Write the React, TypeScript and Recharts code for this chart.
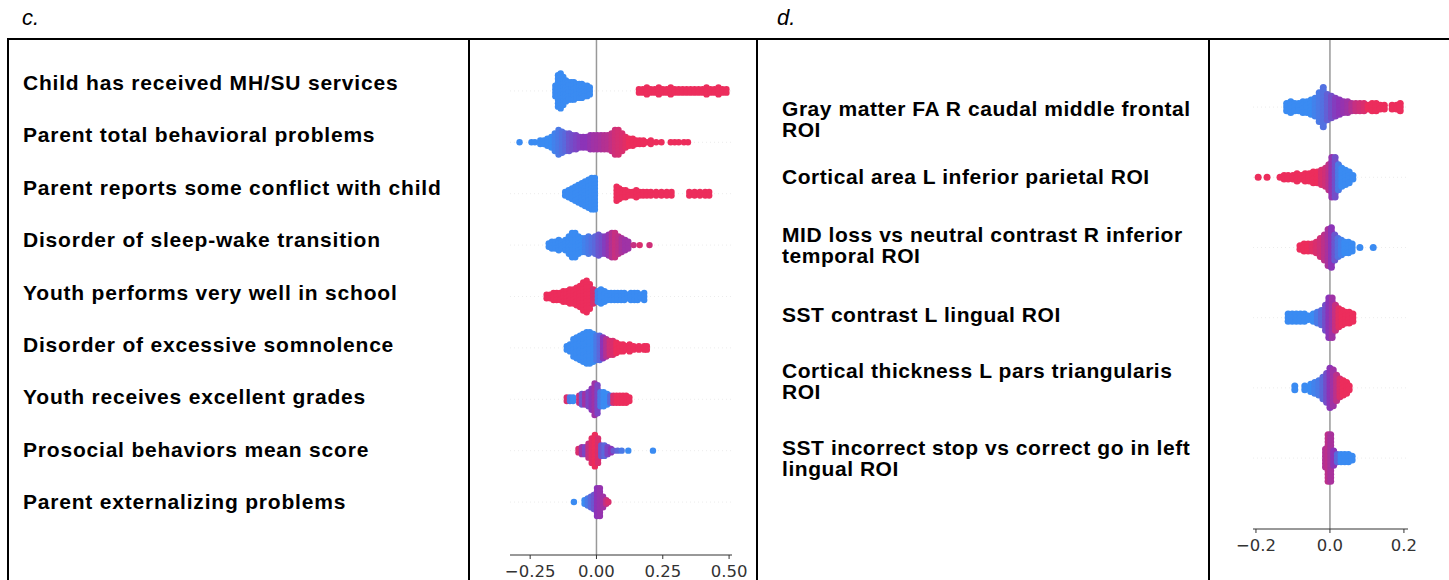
import React from 'react';
import { ScatterChart, Scatter, XAxis, YAxis, ReferenceLine } from 'recharts';

type Bin = [number, number, number]; // [shap value, dots stacked, feature value 0=low(blue) 1=high(red)]

const cFeatures = [
  'Child has received MH/SU services',
  'Parent total behavioral problems',
  'Parent reports some conflict with child',
  'Disorder of sleep-wake transition',
  'Youth performs very well in school',
  'Disorder of excessive somnolence',
  'Youth receives excellent grades',
  'Prosocial behaviors mean score',
  'Parent externalizing problems',
];

const dFeatures = [
  ['Gray matter FA R caudal middle frontal', 'ROI'],
  ['Cortical area L inferior parietal ROI'],
  ['MID loss vs neutral contrast R inferior', 'temporal ROI'],
  ['SST contrast L lingual ROI'],
  ['Cortical thickness L pars triangularis', 'ROI'],
  ['SST incorrect stop vs correct go in left', 'lingual ROI'],
];

const cTicks = [-0.25, 0, 0.25, 0.5];
const dTicks = [-0.2, 0, 0.2];

// ---- panel c rows ----
const cMHSU: Bin[] = [
  [-0.155, 4, 0], [-0.145, 10, 0], [-0.135, 11, 0], [-0.125, 9, 0], [-0.115, 7, 0], [-0.105, 6, 0],
  [-0.095, 6, 0], [-0.085, 6, 0], [-0.075, 5, 0], [-0.065, 5, 0], [-0.055, 5, 0], [-0.045, 4, 0],
  [-0.035, 4, 0], [-0.025, 3, 0],
  [0.16, 2, 1], [0.175, 2, 1], [0.19, 3, 1], [0.205, 2, 1], [0.22, 2, 1], [0.235, 3, 1], [0.25, 2, 1],
  [0.265, 2, 1], [0.28, 3, 1], [0.295, 2, 1], [0.31, 2, 1], [0.325, 2, 1], [0.34, 2, 1], [0.355, 2, 1],
  [0.37, 2, 1], [0.385, 2, 1], [0.4, 2, 1], [0.415, 3, 1], [0.43, 2, 1], [0.445, 2, 1], [0.46, 3, 1],
  [0.475, 2, 1], [0.49, 2, 1],
];
const cParentBehav: Bin[] = [
  [-0.29, 1, 0], [-0.245, 1, 0], [-0.232, 1, 0], [-0.212, 2, 0], [-0.198, 2, 0], [-0.185, 3, 0],
  [-0.17, 4, 0], [-0.157, 6, 0.05], [-0.143, 8, 0.1], [-0.13, 7, 0.15], [-0.117, 6, 0.2], [-0.103, 6, 0.3],
  [-0.09, 5, 0.35], [-0.077, 5, 0.4], [-0.063, 4, 0.45], [-0.05, 4, 0.5], [-0.037, 4, 0.5], [-0.023, 5, 0.55],
  [-0.01, 5, 0.6], [0.003, 5, 0.62], [0.017, 5, 0.65], [0.03, 5, 0.7], [0.043, 5, 0.72], [0.057, 6, 0.78],
  [0.07, 8, 0.85], [0.083, 8, 0.88], [0.097, 6, 0.9], [0.11, 4, 0.95], [0.123, 3, 1], [0.137, 3, 1],
  [0.15, 2, 1], [0.163, 2, 1], [0.177, 2, 1], [0.19, 1, 1], [0.205, 2, 1], [0.225, 1, 1], [0.245, 1, 1],
  [0.28, 1, 1], [0.295, 1, 1], [0.31, 1, 1], [0.33, 1, 1], [0.345, 1, 1],
];
const cConflict: Bin[] = [
  [-0.118, 2, 0], [-0.105, 3, 0], [-0.092, 4, 0], [-0.08, 5, 0], [-0.068, 6, 0], [-0.055, 7, 0],
  [-0.043, 8, 0], [-0.03, 9, 0], [-0.018, 10, 0], [-0.006, 10, 0],
  [0.076, 5, 1], [0.086, 4, 1], [0.098, 3, 1], [0.11, 3, 1], [0.123, 2, 1], [0.136, 2, 1], [0.15, 3, 1],
  [0.163, 2, 1], [0.176, 2, 1], [0.19, 2, 1], [0.205, 2, 1], [0.225, 2, 1], [0.245, 2, 1], [0.265, 2, 1],
  [0.283, 2, 1], [0.35, 2, 1], [0.37, 2, 1], [0.39, 2, 1], [0.41, 2, 1], [0.425, 2, 1],
];
const cSleepWake: Bin[] = [
  [-0.18, 2, 0], [-0.168, 3, 0], [-0.155, 3, 0], [-0.142, 4, 0], [-0.13, 3, 0], [-0.117, 4, 0],
  [-0.104, 6, 0], [-0.092, 8, 0], [-0.08, 8, 0], [-0.068, 6, 0], [-0.055, 5, 0], [-0.043, 5, 0.05],
  [-0.03, 6, 0.1], [-0.018, 5, 0.15], [-0.005, 6, 0.2], [0.008, 7, 0.3], [0.02, 6, 0.35], [0.033, 6, 0.45],
  [0.046, 7, 0.55], [0.058, 8, 0.7], [0.07, 8, 0.8], [0.083, 6, 0.75], [0.095, 5, 0.65], [0.108, 4, 0.6],
  [0.12, 3, 0.6], [0.14, 1, 0.8], [0.163, 1, 0.9], [0.2, 1, 0.85],
];
const cSchool: Bin[] = [
  [-0.188, 2, 1], [-0.175, 2, 1], [-0.162, 3, 1], [-0.15, 3, 1], [-0.137, 3, 1], [-0.125, 4, 1],
  [-0.112, 4, 1], [-0.1, 5, 1], [-0.087, 5, 1], [-0.075, 6, 1], [-0.062, 7, 1], [-0.05, 9, 1],
  [-0.037, 10, 1], [-0.025, 8, 1], [-0.012, 5, 0.9],
  [0.005, 4, 0.05], [0.017, 5, 0], [0.03, 4, 0], [0.042, 3, 0], [0.055, 3, 0], [0.068, 3, 0], [0.08, 3, 0],
  [0.093, 3, 0], [0.105, 3, 0], [0.118, 2, 0], [0.13, 3, 0], [0.143, 3, 0], [0.155, 3, 0], [0.168, 2, 0],
  [0.18, 3, 0],
];
const cSomnolence: Bin[] = [
  [-0.112, 2, 0], [-0.1, 3, 0], [-0.087, 6, 0], [-0.075, 7, 0], [-0.062, 8, 0], [-0.05, 9, 0],
  [-0.037, 10, 0], [-0.025, 10, 0], [-0.012, 9, 0], [0.0, 8, 0.1], [0.012, 8, 0.2], [0.025, 7, 0.5],
  [0.037, 6, 0.7], [0.05, 5, 0.85], [0.062, 5, 0.9], [0.075, 4, 1], [0.087, 3, 1], [0.1, 3, 1],
  [0.112, 2, 1], [0.125, 3, 1], [0.14, 2, 1], [0.16, 2, 1], [0.18, 2, 1], [0.19, 2, 1],
];
const cGrades: Bin[] = [
  [-0.112, 2, 0.9], [-0.1, 2, 0.1], [-0.088, 2, 0], [-0.065, 3, 0.8], [-0.055, 4, 0.3], [-0.043, 4, 0.6],
  [-0.03, 5, 0.4], [-0.018, 7, 0.5], [-0.007, 10, 0.6], [0.004, 9, 0.4], [0.015, 5, 0.1], [0.027, 5, 0],
  [0.04, 4, 0], [0.052, 3, 0.2], [0.064, 3, 0.9], [0.076, 3, 1], [0.088, 3, 1], [0.1, 3, 1], [0.112, 3, 1],
  [0.124, 2, 1],
];
const cProsocial: Bin[] = [
  [-0.068, 2, 0.9], [-0.055, 3, 0.6], [-0.043, 3, 0.4], [-0.03, 5, 0.8], [-0.018, 8, 0.95], [-0.006, 10, 1],
  [0.006, 8, 0.9], [0.018, 4, 0.3], [0.03, 4, 0.2], [0.042, 3, 0.4], [0.055, 2, 0.5], [0.065, 1, 0.3],
  [0.08, 1, 0.2], [0.095, 1, 0.1], [0.12, 1, 0], [0.213, 1, 0],
];
const cExternal: Bin[] = [
  [-0.085, 1, 0], [-0.045, 2, 0], [-0.033, 3, 0.1], [-0.021, 4, 0.2], [-0.01, 5, 0.3], [0.002, 9, 0.5],
  [0.013, 9, 0.55], [0.025, 4, 0.6], [0.037, 2, 0.8], [0.045, 1, 0.9],
];

// ---- panel d rows ----
const dGrayFA: Bin[] = [
  [-0.117, 3, 0], [-0.106, 4, 0], [-0.095, 3, 0], [-0.084, 3, 0], [-0.073, 4, 0], [-0.062, 4, 0],
  [-0.051, 5, 0], [-0.04, 6, 0.05], [-0.029, 9, 0.1], [-0.018, 12, 0.15], [-0.007, 8, 0.25], [0.004, 7, 0.35],
  [0.015, 6, 0.45], [0.026, 5, 0.5], [0.037, 4, 0.55], [0.048, 4, 0.6], [0.059, 3, 0.7], [0.07, 3, 0.8],
  [0.081, 3, 0.85], [0.092, 3, 0.9], [0.103, 2, 1], [0.114, 3, 1], [0.125, 3, 1], [0.136, 2, 1],
  [0.147, 2, 1], [0.168, 2, 1], [0.18, 2, 1], [0.19, 3, 1],
];
const dCortArea: Bin[] = [
  [-0.194, 1, 1], [-0.17, 1, 1], [-0.135, 1, 1], [-0.124, 2, 1], [-0.113, 2, 1], [-0.1, 2, 1],
  [-0.089, 3, 1], [-0.078, 2, 1], [-0.067, 3, 1], [-0.056, 3, 1], [-0.045, 4, 1], [-0.034, 4, 1],
  [-0.023, 5, 0.9], [-0.012, 6, 0.85], [-0.003, 8, 0.75], [0.005, 12, 0.55], [0.014, 12, 0.35],
  [0.023, 8, 0.1], [0.032, 6, 0], [0.042, 5, 0], [0.052, 4, 0], [0.062, 2, 0],
];
const dMID: Bin[] = [
  [-0.081, 2, 1], [-0.07, 3, 1], [-0.059, 3, 1], [-0.048, 3, 0.95], [-0.037, 4, 0.9], [-0.026, 6, 0.85],
  [-0.015, 8, 0.75], [-0.005, 11, 0.65], [0.004, 12, 0.5], [0.013, 8, 0.3], [0.022, 6, 0.15], [0.031, 5, 0.05],
  [0.04, 4, 0], [0.05, 4, 0], [0.06, 3, 0], [0.081, 1, 0], [0.117, 1, 0],
];
const dSSTLingual: Bin[] = [
  [-0.113, 3, 0], [-0.102, 3, 0], [-0.091, 3, 0], [-0.08, 3, 0], [-0.069, 3, 0], [-0.058, 2, 0],
  [-0.045, 3, 0], [-0.034, 4, 0.1], [-0.023, 5, 0.2], [-0.012, 8, 0.35], [-0.003, 12, 0.5], [0.006, 12, 0.6],
  [0.015, 8, 0.8], [0.024, 6, 0.95], [0.033, 5, 1], [0.042, 4, 1], [0.052, 4, 1], [0.062, 3, 1],
];
const dThickness: Bin[] = [
  [-0.095, 2, 0], [-0.068, 2, 0], [-0.052, 3, 0], [-0.041, 4, 0.05], [-0.03, 5, 0.1], [-0.019, 7, 0.2],
  [-0.009, 9, 0.35], [0.0, 12, 0.5], [0.009, 11, 0.6], [0.018, 8, 0.75], [0.027, 6, 0.9], [0.036, 5, 1],
  [0.045, 4, 1], [0.052, 2, 1],
];
const dSSTStop: Bin[] = [
  [-0.012, 6, 0.7], [-0.005, 14, 0.75], [0.002, 14, 0.65], [0.01, 5, 0.5], [0.02, 3, 0.2], [0.03, 3, 0],
  [0.04, 3, 0], [0.05, 3, 0], [0.06, 2, 0],
];

const cRows = [cMHSU, cParentBehav, cConflict, cSleepWake, cSchool, cSomnolence, cGrades, cProsocial, cExternal];
const dRows = [dGrayFA, dCortArea, dMID, dSSTLingual, dThickness, dSSTStop];

// SHAP-like blue -> purple -> red colormap
const BLUE = [58, 139, 242];
const PURPLE = [140, 52, 184];
const RED = [236, 45, 92];
function colorOf(t: number) {
  const lerp = (a: number[], b: number[], u: number) => a.map((v, i) => Math.round(v + (b[i] - v) * u));
  const c = t < 0.5 ? lerp(BLUE, PURPLE, t / 0.5) : lerp(PURPLE, RED, (t - 0.5) / 0.5);
  return `rgb(${c[0]},${c[1]},${c[2]})`;
}

function swarm(rows: Bin[][], step: number) {
  const pts: { x: number; y: number; color: string }[] = [];
  rows.forEach((bins, r) => {
    bins.forEach(([x, n, c]) => {
      for (let k = 0; k < n; k++) {
        pts.push({ x, y: r + (k - (n - 1) / 2) * step, color: colorOf(c) });
      }
    });
  });
  return pts;
}

const minus = (s: string) => s.replace('-', '\u2212');

function Beeswarm(props: {
  rows: Bin[][]; width: number; height: number; margin: any; xDomain: [number, number];
  yDomain: [number, number]; ticks: number[]; digits: number; step: number; r: number; fontSize: number;
}) {
  const { rows, width, height, margin, xDomain, yDomain, ticks, digits, step, r, fontSize } = props;
  const pts = swarm(rows, step);
  return (
    <ScatterChart width={width} height={height} margin={margin}>
      <XAxis
        type="number" dataKey="x" domain={xDomain} ticks={ticks} allowDataOverflow
        height={25} tickSize={4} tickMargin={6}
        axisLine={{ stroke: '#333333', strokeWidth: 1 }} tickLine={{ stroke: '#333333' }}
        tick={{ fill: '#333333', fontSize, fontFamily: 'DejaVu Sans' }}
        tickFormatter={(v: number) => minus(v.toFixed(digits))}
      />
      <YAxis type="number" dataKey="y" domain={yDomain} reversed hide width={0} allowDataOverflow />
      {rows.map((_, i) => (
        <ReferenceLine key={i} y={i} stroke="#ececec" strokeDasharray="1 3" />
      ))}
      <ReferenceLine x={0} stroke="#999999" strokeWidth={1.5} />
      <Scatter
        data={pts} isAnimationActive={false}
        shape={(p: any) => <circle cx={p.cx} cy={p.cy} r={r} fill={p.payload.color} />}
      />
    </ScatterChart>
  );
}

const labelFont = '"Liberation Sans", Arial, sans-serif';

export default function App() {
  const line = (left: number, top: number, w: number, h: number, key: string) => (
    <div key={key} style={{ position: 'absolute', left, top, width: w, height: h, background: '#000' }} />
  );
  const dFirstLineCenters = [108, 176, 234, 314, 370, 447];
  return (
    <div style={{ position: 'absolute', left: 0, top: 0, width: 1449, height: 580, background: '#fff', overflow: 'hidden', fontFamily: labelFont }}>
      <div style={{ position: 'absolute', left: 22, top: 5, fontSize: 22, fontStyle: 'italic', lineHeight: '26px' }}>c.</div>
      <div style={{ position: 'absolute', left: 777, top: 5, fontSize: 22, fontStyle: 'italic', lineHeight: '26px' }}>d.</div>

      {cFeatures.map((f, i) => (
        <div key={f} style={{ position: 'absolute', left: 23, top: 83 + i * 52.4 - 12, fontSize: 21, letterSpacing: 0.8, fontWeight: 'bold', lineHeight: '24px', whiteSpace: 'nowrap' }}>{f}</div>
      ))}
      {dFeatures.map((lines, i) => (
        <div key={i} style={{ position: 'absolute', left: 782, top: dFirstLineCenters[i] - 10.5, fontSize: 21, letterSpacing: 0.55, fontWeight: 'bold', lineHeight: '21px', whiteSpace: 'nowrap' }}>
          {lines.map((l) => <div key={l}>{l}</div>)}
        </div>
      ))}

      <div style={{ position: 'absolute', left: 470, top: 0 }}>
        <Beeswarm rows={cRows} width={290} height={580} margin={{ top: 39, right: 28, bottom: 0, left: 40 }}
          xDomain={[-0.326, 0.511]} yDomain={[-1.01, 9.03]} ticks={cTicks} digits={2} step={0.068} r={3.2} fontSize={16.5} />
      </div>
      <div style={{ position: 'absolute', left: 1212, top: 0 }}>
        <Beeswarm rows={dRows} width={237} height={580} margin={{ top: 39, right: 41, bottom: 26, left: 41 }}
          xDomain={[-0.208, 0.211]} yDomain={[-0.97, 6.01]} ticks={dTicks} digits={1} step={0.051} r={3.5} fontSize={16.5} />
      </div>

      {line(8, 38, 1441, 2, 'top')}
      {line(7, 38, 2, 542, 'v0')}
      {line(468, 38, 2, 542, 'v1')}
      {line(756, 38, 2, 542, 'v2')}
      {line(1208, 38, 2, 542, 'v3')}
    </div>
  );
}
